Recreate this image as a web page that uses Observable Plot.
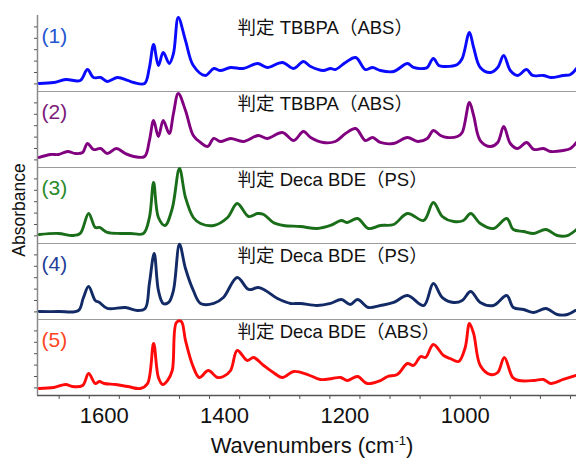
<!DOCTYPE html>
<html><head><meta charset="utf-8">
<script src="https://cdn.jsdelivr.net/npm/d3@7"></script>
<script src="https://cdn.jsdelivr.net/npm/@observablehq/plot@0.6"></script>
<style>
html,body{margin:0;padding:0;background:#fff;}
</style></head><body><div id="chart"></div>
<script>
const panels = ["1","2","3","4","5"];
const numberLabels = ["(1)","(2)","(3)","(4)","(5)"];
const titles = ["判定 TBBPA（ABS）","判定 TBBPA（ABS）","判定 Deca BDE（PS）","判定 Deca BDE（PS）","判定 Deca BDE（ABS）"];
const lineColors = ["#0a0aff","#800080","#1a6e1a","#122a66","#ff0a0a"];
const labelColors = ["#2455d0","#7a1a7a","#2a8a2a","#1f3f99","#ff4422"];
const xTicksMajor = [1600,1400,1200,1000];
const xTicksMinor = [1650,1600,1550,1500,1450,1400,1350,1300,1250,1200,1150,1100,1050,1000,950,900,850,800];
const yTicks = [0.1,0.25,0.4,0.55,0.7,0.85];
const xLabel = "Wavenumbers (cm";
const yLabel = "Absorbance";

const spec1 = [[1683,0.105],[1659,0.118],[1639,0.158],[1615,0.145],[1603,0.289],[1593,0.184],[1581,0.184],[1570,0.132],[1553,0.184],[1536,0.145],[1526,0.118],[1508,0.105],[1500,0.316],[1493,0.618],[1485,0.342],[1477,0.513],[1467,0.368],[1460,0.5],[1452,0.974],[1440,0.671],[1427,0.342],[1407,0.211],[1393,0.303],[1382,0.276],[1365,0.316],[1344,0.303],[1320,0.368],[1304,0.316],[1279,0.382],[1260,0.303],[1244,0.395],[1232,0.329],[1211,0.276],[1199,0.303],[1191,0.289],[1174,0.382],[1157,0.447],[1141,0.289],[1129,0.316],[1116,0.276],[1094,0.263],[1071,0.368],[1061,0.316],[1044,0.303],[1038,0.316],[1028,0.434],[1019,0.342],[1011,0.329],[988,0.355],[980,0.434],[968,0.776],[961,0.579],[950,0.316],[933,0.25],[921,0.316],[911,0.474],[900,0.276],[888,0.211],[873,0.289],[863,0.211],[845,0.211],[833,0.184],[812,0.211],[800,0.224],[790,0.303]];
const spec2 = [[1683,0.132],[1664,0.171],[1651,0.171],[1636,0.211],[1623,0.184],[1611,0.197],[1603,0.316],[1593,0.237],[1581,0.25],[1570,0.184],[1555,0.25],[1540,0.184],[1526,0.145],[1508,0.145],[1500,0.355],[1493,0.618],[1485,0.408],[1477,0.618],[1467,0.447],[1460,0.711],[1452,0.974],[1440,0.75],[1427,0.421],[1415,0.329],[1403,0.276],[1393,0.382],[1382,0.342],[1365,0.382],[1344,0.342],[1319,0.421],[1304,0.382],[1279,0.461],[1260,0.355],[1244,0.474],[1232,0.395],[1211,0.329],[1191,0.342],[1174,0.447],[1157,0.513],[1141,0.355],[1129,0.395],[1116,0.329],[1094,0.316],[1071,0.395],[1054,0.342],[1038,0.382],[1028,0.487],[1016,0.421],[1005,0.395],[988,0.408],[980,0.461],[968,0.855],[961,0.684],[950,0.355],[933,0.276],[921,0.329],[911,0.539],[900,0.316],[888,0.25],[873,0.329],[861,0.237],[845,0.25],[833,0.211],[812,0.224],[800,0.25],[790,0.329]];
const spec3 = [[1683,0.118],[1651,0.132],[1628,0.105],[1615,0.132],[1601,0.395],[1590,0.211],[1583,0.211],[1570,0.145],[1548,0.132],[1531,0.132],[1510,0.132],[1500,0.342],[1493,0.803],[1485,0.342],[1474,0.237],[1462,0.461],[1450,0.987],[1440,0.605],[1427,0.342],[1415,0.263],[1393,0.237],[1370,0.342],[1354,0.526],[1335,0.355],[1320,0.395],[1310,0.382],[1294,0.276],[1277,0.237],[1249,0.224],[1221,0.197],[1199,0.237],[1181,0.303],[1171,0.276],[1154,0.329],[1136,0.197],[1116,0.237],[1094,0.25],[1071,0.395],[1044,0.303],[1028,0.539],[1013,0.355],[994,0.289],[978,0.303],[966,0.395],[950,0.263],[928,0.197],[906,0.329],[895,0.184],[878,0.158],[861,0.132],[841,0.184],[822,0.105],[805,0.105],[790,0.184]];
const spec4 = [[1683,0.105],[1651,0.105],[1618,0.118],[1610,0.28],[1601,0.434],[1590,0.25],[1583,0.224],[1570,0.145],[1540,0.158],[1520,0.118],[1507,0.145],[1500,0.474],[1492,0.868],[1485,0.382],[1477,0.211],[1468,0.224],[1460,0.382],[1450,0.99],[1440,0.671],[1427,0.382],[1415,0.211],[1393,0.211],[1377,0.289],[1354,0.553],[1335,0.395],[1319,0.421],[1307,0.382],[1287,0.276],[1265,0.211],[1249,0.211],[1221,0.184],[1199,0.211],[1181,0.263],[1166,0.197],[1154,0.263],[1136,0.158],[1116,0.184],[1094,0.224],[1071,0.316],[1044,0.184],[1028,0.474],[1013,0.289],[994,0.224],[980,0.25],[966,0.368],[950,0.224],[928,0.184],[906,0.316],[895,0.158],[878,0.132],[861,0.092],[841,0.145],[822,0.066],[805,0.066],[792,0.118]];
const spec5 = [[1683,0.092],[1659,0.105],[1639,0.145],[1628,0.118],[1611,0.132],[1601,0.289],[1590,0.158],[1583,0.184],[1575,0.158],[1556,0.145],[1536,0.118],[1515,0.092],[1503,0.158],[1493,0.684],[1485,0.237],[1478,0.145],[1470,0.197],[1462,0.329],[1455,0.961],[1447,0.974],[1440,0.724],[1428,0.395],[1417,0.237],[1402,0.329],[1387,0.237],[1377,0.25],[1365,0.329],[1354,0.592],[1337,0.461],[1327,0.5],[1310,0.395],[1294,0.303],[1279,0.237],[1260,0.316],[1237,0.276],[1216,0.211],[1196,0.224],[1182,0.237],[1171,0.197],[1154,0.25],[1138,0.158],[1116,0.197],[1104,0.25],[1088,0.276],[1071,0.421],[1061,0.395],[1049,0.513],[1041,0.5],[1028,0.671],[1011,0.526],[1000,0.487],[986,0.447],[975,0.632],[968,0.947],[961,0.816],[950,0.395],[933,0.276],[921,0.303],[910,0.5],[896,0.237],[886,0.197],[861,0.197],[845,0.211],[833,0.158],[812,0.211],[792,0.263]];

const spectra = [spec1, spec2, spec3, spec4, spec5];
const rows = spectra.flatMap((s, i) => s.map(([wn, a]) => ({panel: panels[i], wn, a, col: lineColors[i]})));
const info = panels.map((p, i) => ({panel: p, num: numberLabels[i], title: titles[i], col: labelColors[i]}));
const font = '"Liberation Sans", Arial, "Noto Sans CJK JP", sans-serif';

const plot = Plot.plot({
  width: 576, height: 459,
  marginTop: 15, marginBottom: 64, marginLeft: 37, marginRight: 0,
  style: {fontFamily: font, background: "#fff", overflow: "visible"},
  x: {domain: [1686, 790], label: null},
  y: {domain: [0, 1], label: null},
  fy: {domain: panels, padding: 0, axis: null, label: null},
  marks: [
    Plot.ruleY(info.slice(0, 4), {fy: "panel", y: 0, stroke: "#9a9a9a", strokeWidth: 1.2}),
    Plot.ruleY(info.slice(4), {fy: "panel", y: 0, stroke: "#555", strokeWidth: 1.5}),
    Plot.ruleX([1686], {stroke: "#8a8a8a", strokeWidth: 1.5}),
    Plot.axisY({ticks: yTicks, tickSize: 3, tickFormat: () => "", stroke: "#555", label: null}),
    Plot.axisX({ticks: xTicksMinor, tickSize: 4, tickFormat: () => "", stroke: "#555", label: null}),
    Plot.axisX({ticks: xTicksMajor, tickSize: 0, tickPadding: 12, dx: 15, fontSize: 22, fill: "#111", label: null, tickFormat: d => String(d)}),
    Plot.line(rows, {x: "wn", y: "a", fy: "panel", stroke: "col", strokeWidth: 2.9, curve: "catmull-rom"}),
    Plot.text(info, {fy: "panel", text: "title", frameAnchor: "top-left", dx: 200, dy: 13, lineAnchor: "middle", textAnchor: "start", fontSize: 18.5, fill: "#111"}),
    Plot.text(info, {fy: "panel", text: "num", frameAnchor: "top-left", dx: 4, dy: 21, lineAnchor: "middle", textAnchor: "start", fontSize: 21, fill: "col"})
  ]
});

const svg = d3.select(plot);
const xl = svg.append("text")
  .attr("x", 312).attr("y", 453)
  .attr("text-anchor", "middle")
  .style("font-family", font).style("font-size", "22px").attr("fill", "#111");
xl.append("tspan").text(xLabel);
xl.append("tspan").attr("dy", -8).style("font-size", "13px").text("-1");
xl.append("tspan").attr("dy", 8).text(")");
svg.append("text")
  .attr("transform", "translate(25,210) rotate(-90)")
  .attr("text-anchor", "middle")
  .style("font-family", font).style("font-size", "17.5px").attr("fill", "#111")
  .text(yLabel);

document.getElementById("chart").appendChild(plot);
</script></body></html>
